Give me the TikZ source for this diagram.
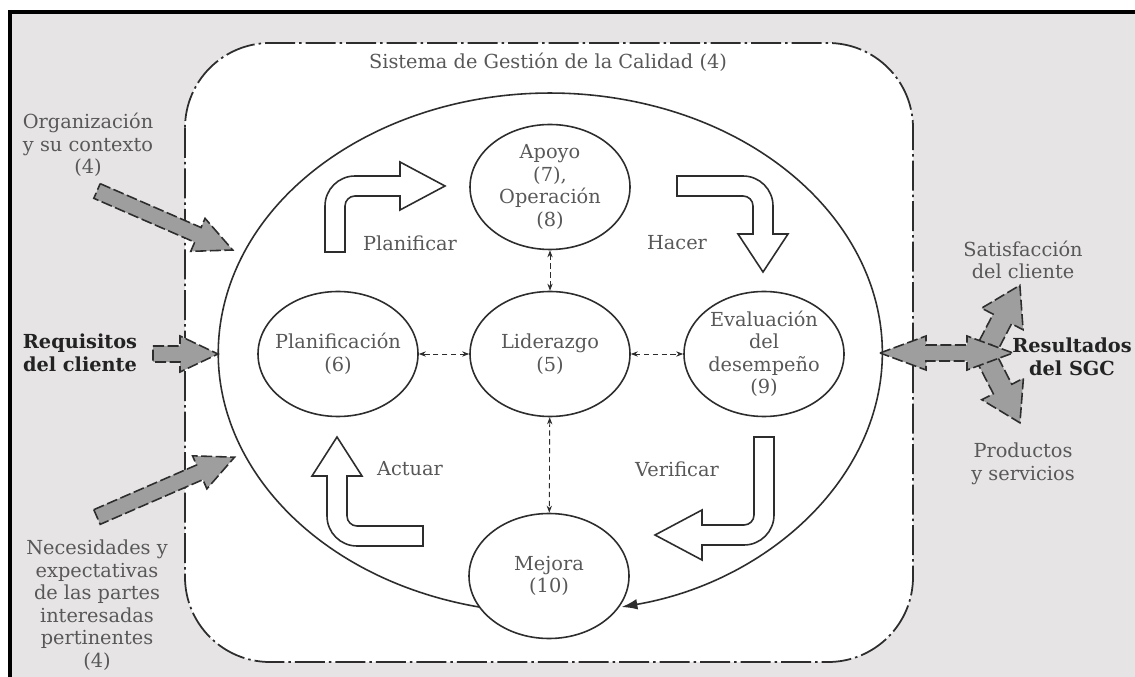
\documentclass[tikz,border=0pt]{standalone}
\usepackage{fontspec}
\setmainfont{DejaVu Serif}
\usetikzlibrary{shapes.geometric,arrows.meta}

\definecolor{fondo}{RGB}{230,228,228}
\definecolor{texto}{RGB}{88,88,88}
\definecolor{oscuro}{RGB}{35,35,35}
\definecolor{linea}{RGB}{45,45,45}
\definecolor{relleno}{RGB}{158,158,158}

\tikzset{
  proceso/.style={draw=linea, line width=0.9pt, ellipse, fill=white, minimum width=32mm, minimum height=25mm, inner sep=-2mm, align=center, text=texto, font=\fontsize{11}{12.8}\selectfont},
  etiqueta/.style={text=texto, align=center, font=\fontsize{11}{12.8}\selectfont},
  negrita/.style={text=oscuro, align=center, font=\fontsize{11}{12.8}\selectfont\bfseries},
  enlace/.style={densely dashed, line width=0.5pt, draw=linea, {Stealth[length=4pt,width=3pt]}-{Stealth[length=4pt,width=3pt]}},
  hueco/.style={draw=linea, line width=0.9pt, fill=white},
  gris/.style={draw=linea, line width=0.9pt, dash pattern=on 2.2mm off 0.7mm, fill=relleno},
  sistema/.style={draw=linea, line width=1pt, fill=white, rounded corners=17mm, dash pattern=on 6mm off 0.8mm on 0.5mm off 0.8mm},
  ciclo/.style={draw=linea, line width=0.9pt, -{Latex[length=9pt,width=6pt]}},
}

% grey input/output arrow: [width factor], tail, angle, length
\newcommand{\flechagris}[4][1]{%
  \begin{scope}[shift={#2}, rotate=#3, yscale=#1]
    \filldraw[gris] (0,-8) -- (#4-38,-8) -- (#4-38,-18) -- (#4,0) -- (#4-38,18) -- (#4-38,8) -- (0,8) -- cycle;
  \end{scope}}

\begin{document}
\begin{tikzpicture}[x=0.2mm, y=-0.2mm]
\useasboundingbox (0,0) rectangle (1135,677);
\fill[fondo] (10,12) rectangle (1135,677);
\draw[line width=2pt] (10,677) -- (10,12) -- (1135,12);
\draw[sistema] (185,43) rectangle (913,662);
\node[etiqueta] (titulo) at (548,62) {Sistema de Gestión de la Calidad (4)};

% PDCA cycle
\draw[ciclo] (479,607) arc[start angle=102.4, end angle=437.6, x radius=332, y radius=260];

\node[proceso] (apo) at (550,187) {Apoyo\\(7),\\Operación\\(8)};
\node[proceso] (lid) at (550,354) {Liderazgo\\(5)};
\node[proceso] (plan) at (338,354) {Planificación\\(6)};
\node[proceso] (eval) at (764,354) {Evaluación\\del\\desempeño\\(9)};
\node[proceso] (mej) at (549,576) {Mejora\\(10)};

\draw[enlace] (lid) -- (apo);
\draw[enlace] (lid) -- (plan);
\draw[enlace] (lid) -- (eval);
\draw[enlace] (lid) -- (mej);

% hollow arrows
\filldraw[hueco] (325,252) -- (325,206) arc[start angle=180, end angle=270, radius=30] -- (400,176) -- (400,162) -- (445,186) -- (400,210) -- (400,196) -- (355,196) arc[start angle=270, end angle=180, radius=10] -- (345,252) -- cycle;
\filldraw[hueco] (677,176) -- (743,176) arc[start angle=270, end angle=360, radius=30] -- (773,234) -- (788,234) -- (763,272) -- (738,234) -- (753,234) -- (753,206) arc[start angle=0, end angle=-90, radius=10] -- (677,196) -- cycle;
\filldraw[hueco] (754,437) -- (774,437) -- (774,515) arc[start angle=0, end angle=90, radius=30] -- (702,545) -- (702,560) -- (655,535) -- (702,510) -- (702,525) -- (744,525) arc[start angle=90, end angle=0, radius=10] -- cycle;
\filldraw[hueco] (423,526) -- (423,546) -- (357,546) arc[start angle=90, end angle=180, radius=30] -- (327,476) -- (312,476) -- (337,437) -- (362,476) -- (347,476) -- (347,516) arc[start angle=180, end angle=90, radius=10] -- cycle;

\node[etiqueta] (planificar) at (410,243) {Planificar};
\node[etiqueta] (hacer) at (677,243) {Hacer};
\node[etiqueta] (actuar) at (410,469) {Actuar};
\node[etiqueta] (verificar) at (677,469) {Verificar};

% inputs
\node[etiqueta] (contexto) at (88,145) {Organización\\y su contexto\\(4)};
\node[negrita] (requisitos) at (80,353) {Requisitos\\del cliente};
\node[etiqueta] (partes) at (97,605) {Necesidades y\\expectativas\\de las partes\\interesadas\\pertinentes\\(4)};
\flechagris{(97,191)}{-23.5}{148}
\flechagris{(153,354)}{0}{65}
\flechagris{(97,517)}{23.5}{150}

% outputs
\flechagris[1.3]{(982,358)}{62.5}{82}
\flechagris[1.3]{(982,349)}{-62.8}{83}
\filldraw[gris] (880,353) -- (926,336) -- (926,345) -- (967,345) -- (967,336) -- (1013,353) -- (967,370) -- (967,361) -- (926,361) -- (926,370) -- cycle;
\node[etiqueta] (satisfaccion) at (1023,260) {Satisfacción\\del cliente};
\node[negrita] (resultados) at (1072,357) {Resultados\\del SGC};
\node[etiqueta] (productos) at (1023,464) {Productos\\y servicios};
\end{tikzpicture}
\end{document}
